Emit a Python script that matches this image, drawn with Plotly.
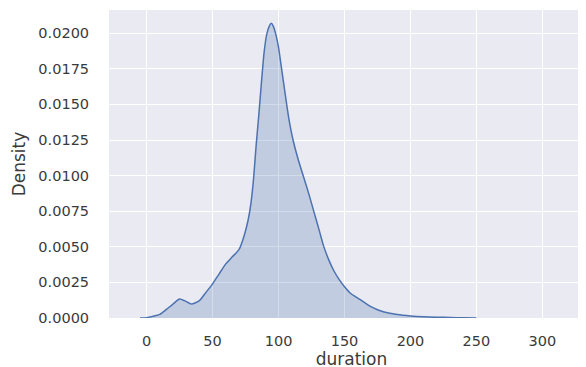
import plotly.graph_objects as go

# KDE curve of "duration"
duration = [-5, 0, 5, 10, 15, 20, 25, 29, 34, 40, 45, 50, 55, 60, 65, 70, 74, 77, 79, 81, 83, 85, 87, 89, 91, 93,
            94.5, 96, 98, 100, 102, 104, 106, 108, 111, 115, 119, 123, 127, 131, 134, 138, 142, 146, 150, 155,
            160, 165, 170, 175, 180, 190, 200, 210, 220, 230, 240, 250]
density = [0.0, 0.00002, 0.00012, 0.00025, 0.0006, 0.00098, 0.00133, 0.0012, 0.00098, 0.00122, 0.0018, 0.0024,
           0.0031, 0.0038, 0.0043, 0.0048, 0.0058, 0.0069, 0.0080, 0.0097, 0.0121, 0.0142, 0.0165, 0.0186, 0.0199,
           0.0205, 0.0207, 0.0205, 0.0199, 0.0190, 0.0177, 0.0164, 0.0151, 0.0139, 0.0125, 0.0111, 0.0099, 0.0087,
           0.0074, 0.0061, 0.0051, 0.0041, 0.0033, 0.0027, 0.0022, 0.0017, 0.0014, 0.0011, 0.0008, 0.00058,
           0.00042, 0.00024, 0.00014, 0.00008, 0.00005, 0.00004, 0.00001, 0.0]

x_ticks = [0, 50, 100, 150, 200, 250, 300]
y_ticks = [0.0, 0.0025, 0.005, 0.0075, 0.01, 0.0125, 0.015, 0.0175, 0.02]

fig = go.Figure()
fig.add_trace(go.Scatter(
    x=duration, y=density, mode="lines",
    line=dict(color="#4c72b0", width=1.5, shape="spline", smoothing=0.6),
    fill="tozeroy", fillcolor="rgba(76,114,176,0.25)",
    showlegend=False, hoverinfo="skip",
))

font = dict(family="DejaVu Sans", size=14.5, color="#3a3a3a")
# the page body adds an 8 px offset, so margins are reduced by 8 px
fig.update_layout(
    width=586, height=367,
    margin=dict(l=101, r=0, t=2, b=57),
    paper_bgcolor="white", plot_bgcolor="#eaeaf2",
    font=font,
    xaxis=dict(
        range=[-28.5, 339.1], tickvals=x_ticks, ticktext=[str(v) for v in x_ticks],
        showgrid=True, gridcolor="white", gridwidth=1.2, zeroline=False, showline=False,
        ticks="outside", ticklen=10, tickcolor="rgba(0,0,0,0)", automargin=True,
        title=dict(text="duration", font=dict(size=17, color="#3a3a3a"), standoff=1),
    ),
    yaxis=dict(
        range=[0, 0.02163], tickvals=y_ticks, ticktext=[f"{v:.4f}" for v in y_ticks],
        showgrid=True, gridcolor="white", gridwidth=1.2, zeroline=False, showline=False,
        ticks="outside", ticklen=16, tickcolor="rgba(0,0,0,0)", automargin=True,
        title=dict(text="Density", font=dict(size=17, color="#3a3a3a"), standoff=8),
    ),
)
fig.write_html("out.html")
